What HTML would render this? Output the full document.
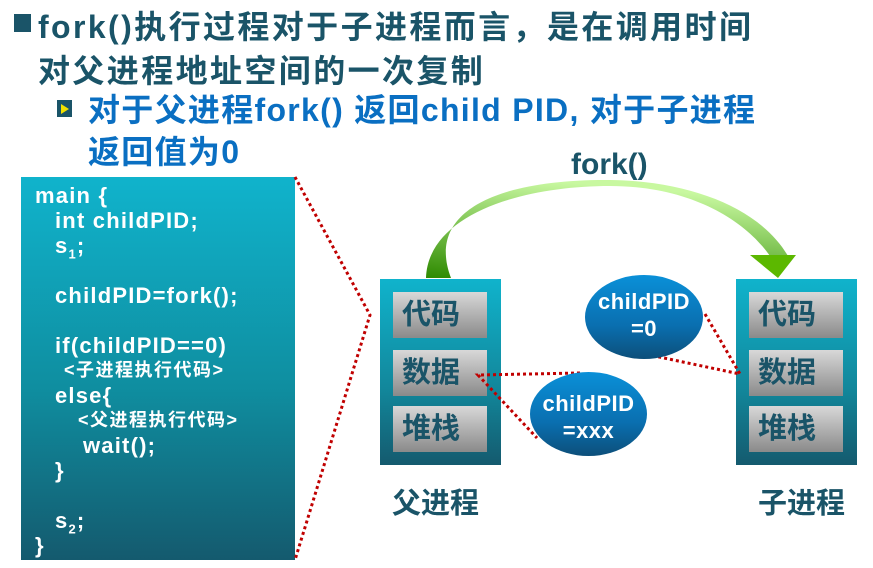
<!DOCTYPE html>
<html><head><meta charset="utf-8"><style>
body{margin:0;width:873px;height:568px;background:#fff;position:relative;overflow:hidden;font-family:"Liberation Sans","Noto Sans CJK SC",sans-serif;font-weight:bold}
.a{position:absolute;white-space:nowrap}
.t{color:#1a5468;font-size:32px;line-height:40px;letter-spacing:2.4px}
.b{color:#0a6fc2;font-size:32px;line-height:40px;letter-spacing:1.3px}
.code{position:absolute;left:21px;top:177px;width:274px;height:383px;background:linear-gradient(#10b3cc,#0f8ea0 55%,#145a6e);color:#fff;font-size:22px;line-height:25px;letter-spacing:1.2px}
.code div{height:25px}
.zh{font-size:18px;letter-spacing:1.5px}
.box{position:absolute;width:121px;height:186px;top:279px;background:linear-gradient(#10b3cc,#12869a 60%,#145a6e)}
.in{position:absolute;left:13px;width:94px;height:46px;background:linear-gradient(#d8d8d8,#8a8a8a);color:#1a5468;font-size:29px;line-height:46px;padding-left:9px;box-sizing:border-box}
.el{position:absolute;border-radius:50%;background:linear-gradient(#0a90d8,#0a6fb0 60%,#0c4f7a);color:#fff;text-align:center;font-size:22px;line-height:27px;letter-spacing:0.5px}
</style></head><body>
<div class="a" style="left:14px;top:14px;width:17px;height:18px;background:#1a5468"></div>
<div class="a t" style="left:38px;top:7px">fork()执行过程对于子进程而言，是在调用时间</div>
<div class="a t" style="left:38px;top:51px">对父进程地址空间的一次复制</div>
<div class="a" style="left:57px;top:100px;width:15px;height:17px;background:#1a5468"></div>
<div class="a" style="left:61px;top:104px;width:0;height:0;border-left:8px solid #f0e000;border-top:5px solid transparent;border-bottom:5px solid transparent"></div>
<div class="a b" style="left:88px;top:90px">对于父进程fork() 返回child PID, 对于子进程</div>
<div class="a b" style="left:88px;top:132px">返回值为0</div>
<div class="code"><div style="padding:6px 0 0 14px;height:auto">
<div>main {</div>
<div style="padding-left:20px">int childPID;</div>
<div style="padding-left:20px">s<sub style="font-size:13px">1</sub>;</div>
<div></div>
<div style="padding-left:20px">childPID=fork();</div>
<div></div>
<div style="padding-left:20px">if(childPID==0)</div>
<div style="padding-left:29px" class="zh">&lt;子进程执行代码&gt;</div>
<div style="padding-left:20px">else{</div>
<div style="padding-left:43px" class="zh">&lt;父进程执行代码&gt;</div>
<div style="padding-left:48px">wait();</div>
<div style="padding-left:20px">}</div>
<div></div>
<div style="padding-left:20px">s<sub style="font-size:13px">2</sub>;</div>
<div>}</div>
</div></div>
<div class="box" style="left:380px"><div class="in" style="top:13px">代码</div><div class="in" style="top:71px">数据</div><div class="in" style="top:127px">堆栈</div></div>
<div class="box" style="left:736px"><div class="in" style="top:13px">代码</div><div class="in" style="top:71px">数据</div><div class="in" style="top:127px">堆栈</div></div>
<svg class="a" style="left:0;top:0" width="873" height="568">
<defs><linearGradient id="g" x1="0" y1="1" x2="0.3" y2="0"><stop offset="0" stop-color="#2e8a00"/><stop offset="1" stop-color="#c8f8a0"/></linearGradient></defs>
<path d="M426,278 C428,215 520,186 610,186 C690,186 745,220 770,256 L788,256 C760,208 690,181 610,180 C500,179 425,210 451,278 Z" fill="url(#g)"/>
<path d="M750,255 L796,255 L778,278 Z" fill="#5cb800"/>
<g stroke="#c00000" stroke-width="3" stroke-dasharray="3,3" fill="none">
<polyline points="295,177 370,315 295,560"/>
<polyline points="580,373 478,375 537,438"/>
<polyline points="705,314 740,374 645,354"/>
</g></svg>
<div class="a" style="left:571px;top:148px;color:#1a5468;font-size:30px">fork()</div>
<div class="el" style="left:585px;top:275px;width:118px;height:84px"><div style="padding-top:13px">childPID<br>=0</div></div>
<div class="el" style="left:530px;top:372px;width:117px;height:84px"><div style="padding-top:18px">childPID<br>=xxx</div></div>
<div class="a" style="left:392px;top:480px;color:#1a5468;font-size:29px">父进程</div>
<div class="a" style="left:758px;top:480px;color:#1a5468;font-size:29px">子进程</div>
</body></html>
